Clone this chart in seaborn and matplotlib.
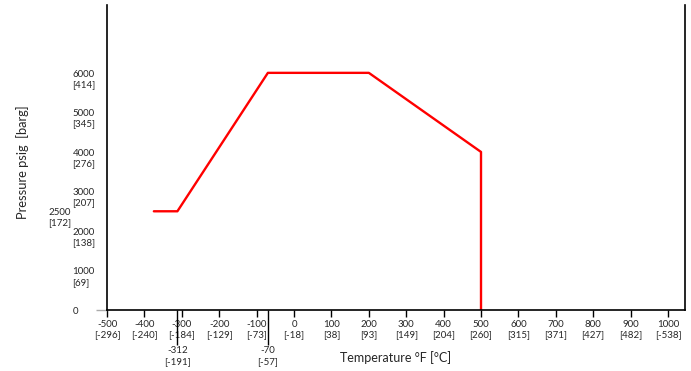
import matplotlib
matplotlib.use("Agg")
import matplotlib.pyplot as plt
import matplotlib.transforms as mtransforms
import seaborn as sns
import pandas as pd

# data
temp_f = [-375, -312, -70, 200, 500, 500]
pressure_psig = [2500, 2500, 6000, 6000, 4000, 0]

x_ticks = [-500, -400, -300, -200, -100, 0, 100, 200, 300, 400, 500, 600, 700, 800, 900, 1000]
x_ticks_c = ["-296", "-240", "-184", "-129", "-73", "-18", "38", "93", "149", "204",
             "260", "315", "371", "427", "482", "-538"]
x_marks = [-312, -70]
x_marks_c = ["-191", "-57"]

y_ticks = [0, 1000, 2000, 3000, 4000, 5000, 6000]
y_ticks_bar = ["", "69", "138", "207", "276", "345", "414"]
y_extra = 2500
y_extra_bar = "172"

sns.set_style("white")
plt.rcParams["font.family"] = ["Lato", "DejaVu Sans"]

df = pd.DataFrame({"temp": temp_f, "pressure": pressure_psig})

fig = plt.figure(figsize=(6.91, 3.71), dpi=100)
ax = fig.add_axes([0.155, 0.164, 0.836, 0.823])

sns.lineplot(data=df, x="temp", y="pressure", sort=False, estimator=None,
             color="#ff0000", linewidth=1.7, ax=ax)

ax.set_xlim(-500, 1045)
ax.set_ylim(0, 7720)

# x ticks
ax.set_xticks(x_ticks)
ax.set_xticklabels([f"{f}\n[{c}]" for f, c in zip(x_ticks, x_ticks_c)], fontsize=7)
ax.tick_params(axis="x", which="major", direction="out", length=5, width=1,
               color="black", pad=2, bottom=True)
for t, v in zip(ax.xaxis.get_major_ticks(), x_ticks):
    if v in (300, 400):
        t.tick1line.set_color("#aaaaaa")

ax.set_xticks(x_marks, minor=True)
ax.set_xticklabels([f"{f}\n[{c}]" for f, c in zip(x_marks, x_marks_c)], minor=True, fontsize=7)
ax.tick_params(axis="x", which="minor", direction="out", length=25, width=1,
               color="black", pad=1, bottom=True)

# y ticks: first line of each label sits on its value
shift = mtransforms.ScaledTranslation(0, 2.4 / 72, fig.dpi_scale_trans)
ax.set_yticks(y_ticks)
ax.set_yticklabels([f"{p}\n[{b}]" if b else f"{p}" for p, b in zip(y_ticks, y_ticks_bar)],
                   fontsize=7)
ax.tick_params(axis="y", direction="out", length=8, width=1, color="#aaaaaa", pad=17, left=True)
for t, v in zip(ax.yaxis.get_major_ticks(), y_ticks):
    if v != 0:
        t.tick1line.set_visible(False)
for lab in ax.get_yticklabels():
    lab.set_horizontalalignment("left")
    lab.set_verticalalignment("top")
    lab.set_multialignment("left")
    lab.set_transform(lab.get_transform() + shift)

trans = mtransforms.blended_transform_factory(ax.transAxes, ax.transData) + shift
ax.text(-0.102, y_extra, f"{y_extra}\n[{y_extra_bar}]", transform=trans, fontsize=7,
        ha="left", va="top", multialignment="left")

ax.set_xlabel("Temperature °F [°C]", fontsize=9)
ax.xaxis.set_label_coords(0.5, -0.135)
ax.set_ylabel("Pressure psig  [barg]", fontsize=9.3)
ax.yaxis.set_label_coords(-0.135, 0.485)

for side in ["left", "bottom", "right"]:
    ax.spines[side].set_color("black")
    ax.spines[side].set_linewidth(1.2)
ax.spines["top"].set_visible(False)

fig.savefig("out.png", dpi=100)
